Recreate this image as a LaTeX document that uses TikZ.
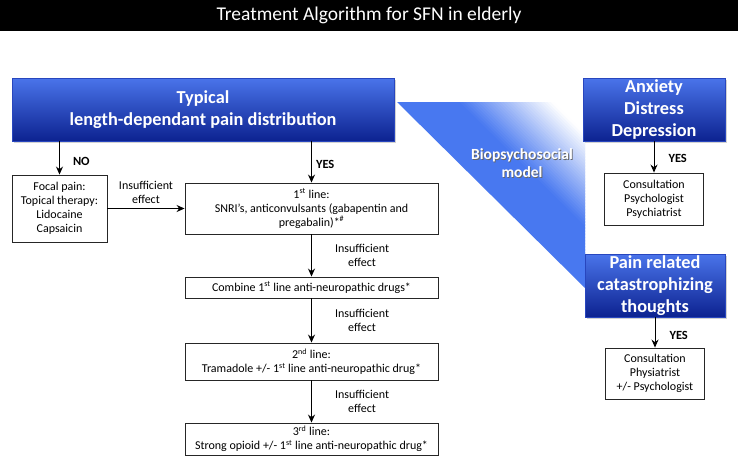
\documentclass[tikz,border=0pt]{standalone}
\usepackage{fontspec}
\setmainfont{Carlito}
\usetikzlibrary{arrows.meta,shadows,calc}
\definecolor{bluetop}{RGB}{74,116,234}
\definecolor{bluebot}{RGB}{12,34,144}
\definecolor{blueline}{RGB}{40,70,190}
\definecolor{triblue}{RGB}{72,120,240}

\begin{document}
\begin{tikzpicture}[x=1pt,y=-1pt,
   bluebox/.style={draw=blueline, top color=bluetop, bottom color=bluebot, text=white,
     font=\fontsize{18.3}{22}\selectfont\bfseries, align=center, inner sep=0pt,
     drop shadow={opacity=0.35, shadow xshift=1.5pt, shadow yshift=-2pt}},
   txtbox/.style={draw=black!85, fill=white, line width=0.9pt, align=center, inner sep=0pt,
     font=\fontsize{12}{14}\selectfont},
   arr/.style={-{Stealth[length=8pt,width=7pt]}, line width=1pt},
   lbl/.style={font=\fontsize{12}{14}\selectfont, align=center, inner sep=0pt},
   yes/.style={font=\fontsize{12.5}{14}\selectfont\bfseries, inner sep=0pt}]
   \fill[white] (0,0) rectangle (738,461);
   \useasboundingbox (0,0) rectangle (738,461);
   \node[fill=black, minimum width=738pt, minimum height=31pt, inner sep=0pt, text=white,
     font=\fontsize{19.5}{21}\selectfont] (title) at (369,15.5) {Treatment Algorithm for SFN in elderly};

   \coordinate (triA) at (397,102);
   \coordinate (triC) at (585,102);
   \coordinate (triB) at (585,288);
   \foreach \i in {0,...,59}{
     \pgfmathsetmacro\ta{\i/60}
     \pgfmathsetmacro\tb{min(1,(\i+1.6)/60)}
     \pgfmathsetmacro\blu{max(0,min(100,100*(0.82-\ta)/0.5))}
     \fill[triblue!\blu!white] ($(triA)!\ta!(triC)$) -- ($(triA)!\tb!(triC)$)
       -- ($(triB)!\tb!(triC)$) -- ($(triB)!\ta!(triC)$) -- cycle;
   }
   \node[font=\fontsize{15.5}{17.5}\selectfont\bfseries, text=black!60, align=center] (biopsyshade) at (522.9,163.9) {Biopsychosocial\\model};
   \node[font=\fontsize{15.5}{17.5}\selectfont\bfseries, text=white, align=center] (biopsy) at (522,163) {Biopsychosocial\\model};

   \node[bluebox, minimum width=382pt, minimum height=63pt] (typical) at (203,109.5) {Typical\\length-dependant pain distribution};
   \node[txtbox, minimum width=95pt, minimum height=67pt] (focal) at (59.5,208.5) {Focal pain:\\Topical therapy:\\Lidocaine\\Capsaicin};
   \node[txtbox, minimum width=253pt, minimum height=51pt] (first) at (311.5,208.5) {1\textsuperscript{st} line:\\SNRI's, anticonvulsants (gabapentin and\\pregabalin)*\textsuperscript{\#}};
   \node[txtbox, minimum width=253pt, minimum height=21pt] (combine) at (311.5,287.5) {Combine 1\textsuperscript{st} line anti-neuropathic drugs*};
   \node[txtbox, minimum width=253pt, minimum height=37pt] (second) at (311.5,361.5) {2\textsuperscript{nd} line:\\Tramadole +/- 1\textsuperscript{st} line anti-neuropathic drug*};
   \node[txtbox, minimum width=253pt, minimum height=32pt] (third) at (311.5,439) {3\textsuperscript{rd} line:\\Strong opioid +/- 1\textsuperscript{st} line anti-neuropathic drug*};

   \node[bluebox, minimum width=142pt, minimum height=63pt] (anxiety) at (654,109.5) {Anxiety\\Distress\\Depression};
   \node[txtbox, minimum width=99pt, minimum height=52pt] (psych) at (654,199) {Consultation\\Psychologist\\Psychiatrist};
   \node[bluebox, minimum width=140pt, minimum height=63pt] (catast) at (655,285.5) {Pain related\\catastrophizing\\thoughts};
   \node[txtbox, minimum width=99pt, minimum height=51pt] (physio) at (655,373.5) {Consultation\\Physiatrist\\+/- Psychologist};

   \draw[arr] (typical.south -| focal.north) -- (focal.north) node[pos=0.6, right=13pt, yes] {NO};
   \draw[arr] (typical.south -| first.north) -- (first.north) node[pos=0.55, right=4pt, yes] {YES};
   \draw[arr] (focal) -- (first) node[midway, above=4pt, lbl] {Insufficient\\effect};
   \draw[arr] (first) -- (combine) node[midway, right=23pt, lbl] {Insufficient\\effect};
   \draw[arr] (combine) -- (second) node[midway, right=23pt, lbl] {Insufficient\\effect};
   \draw[arr] (second) -- (third) node[midway, right=23pt, lbl] {Insufficient\\effect};
   \draw[arr] (anxiety) -- (psych) node[pos=0.55, right=14pt, yes] {YES};
   \draw[arr] (catast) -- (physio) node[pos=0.6, right=14pt, yes] {YES};
  \end{tikzpicture}
\end{document}
